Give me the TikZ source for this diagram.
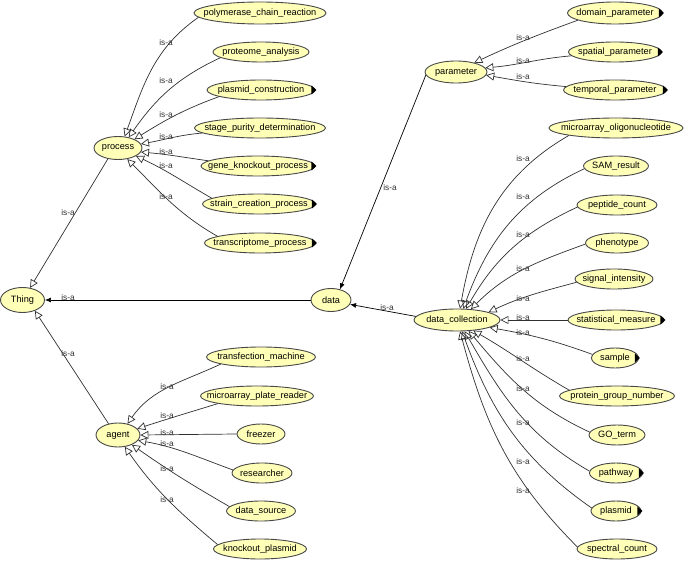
\documentclass[tikz,border=0pt]{standalone}
\usepackage{fontspec}
\setmainfont{Liberation Sans}
\usetikzlibrary{shapes.geometric,arrows.meta}
\definecolor{nodefill}{HTML}{FFFFB8}
\definecolor{nodeline}{HTML}{484848}
\definecolor{edgecol}{HTML}{303030}
\newcommand\ctxt[1]{\hbox to 0pt{\hss#1\hss}}
\begin{document}
\begin{tikzpicture}[x=1pt,y=1pt,
  cls/.style={ellipse, draw=nodeline, fill=nodefill, line width=0.9pt, inner sep=0pt, minimum height=20pt, font=\fontsize{9.2}{10}\selectfont},
  isa/.style={draw=edgecol, line width=0.7pt, -{Triangle[open, length=8pt, width=8pt]}},
  isaf/.style={draw=black, line width=0.7pt, -{Latex[length=6pt,width=5pt]}},
  lbl/.style={font=\fontsize{8.3}{9}\selectfont, inner sep=0pt, text=edgecol},
  exptri/.style={fill=black}
]
\useasboundingbox (0,0) rectangle (685,563);

% main nodes
\node[cls, minimum width=44pt, minimum height=25pt] (thing) at (22.5,263) {\ctxt{Thing}};
\node[cls, minimum width=48pt, minimum height=23pt] (process) at (118,415) {\ctxt{process}};
\node[cls, minimum width=44pt, minimum height=24pt] (agent) at (118,128) {\ctxt{agent}};
\node[cls, minimum width=40pt, minimum height=23pt] (data) at (331,263) {\ctxt{data}};
\node[cls, minimum width=62pt, minimum height=22pt] (param) at (456,491) {\ctxt{parameter}};
\node[cls, minimum width=86pt, minimum height=22pt] (dc) at (457,243) {\ctxt{data\_collection}};

% process children
\node[cls, minimum width=132pt, minimum height=22pt] (poly) at (260,550) {\ctxt{polymerase\_chain\_reaction}};
\node[cls, minimum width=96pt] (prot) at (261,511) {\ctxt{proteome\_analysis}};
\node[cls, minimum width=108pt] (plc) at (261,473) {\ctxt{plasmid\_construction}};
\node[cls, minimum width=131pt] (stage) at (260,435) {\ctxt{stage\_purity\_determination}};
\node[cls, minimum width=114pt] (gene) at (258,397) {\ctxt{gene\_knockout\_process}};
\node[cls, minimum width=113pt] (strain) at (259,359) {\ctxt{strain\_creation\_process}};
\node[cls, minimum width=111pt] (trans) at (260,320) {\ctxt{transcriptome\_process}};

% agent children
\node[cls, minimum width=109pt] (tm) at (261,206) {\ctxt{transfection\_machine}};
\node[cls, minimum width=113pt] (mpr) at (257,167) {\ctxt{microarray\_plate\_reader}};
\node[cls, minimum width=48pt] (freezer) at (261,129) {\ctxt{freezer}};
\node[cls, minimum width=60pt] (res) at (262,90) {\ctxt{researcher}};
\node[cls, minimum width=69pt] (ds) at (261,52) {\ctxt{data\_source}};
\node[cls, minimum width=93pt] (kp) at (260,14) {\ctxt{knockout\_plasmid}};

% parameter children
\node[cls, minimum width=95pt, minimum height=22pt] (dp) at (615,550) {\ctxt{domain\_parameter}};
\node[cls, minimum width=93pt] (sp) at (615,511) {\ctxt{spatial\_parameter}};
\node[cls, minimum width=103pt] (tpar) at (615,473) {\ctxt{temporal\_parameter}};

% data_collection children
\node[cls, minimum width=134pt] (mo) at (616,435) {\ctxt{microarray\_oligonucleotide}};
\node[cls, minimum width=65pt] (sam) at (616,397) {\ctxt{SAM\_result}};
\node[cls, minimum width=80pt] (pep) at (617,358) {\ctxt{peptide\_count}};
\node[cls, minimum width=63pt] (phe) at (617,320) {\ctxt{phenotype}};
\node[cls, minimum width=78pt] (sig) at (614,284) {\ctxt{signal\_intensity}};
\node[cls, minimum width=96pt] (stat) at (616,243) {\ctxt{statistical\_measure}};
\node[cls, minimum width=47pt] (sample) at (615,205) {\ctxt{sample}};
\node[cls, minimum width=115pt] (pgn) at (617,167) {\ctxt{protein\_group\_number}};
\node[cls, minimum width=56pt] (go) at (617,128) {\ctxt{GO\_term}};
\node[cls, minimum width=53pt] (pw) at (616,90) {\ctxt{pathway}};
\node[cls, minimum width=50pt] (pl) at (616,52) {\ctxt{plasmid}};
\node[cls, minimum width=80pt] (spc) at (617,14) {\ctxt{spectral\_count}};

% expand markers
\foreach \n in {plc,gene,strain,trans,dp,sp,tpar,stat,sample,pw,pl}
  \fill[exptri] (\n.east) ++(-4,4.5) -- ++(5,-4.5) -- ++(-5,-4.5) -- cycle;

% process edges
\draw[isa] (poly.184) to[out=215,in=70] (process.60);
\draw[isa] (prot.188) to[out=205,in=55] (process.45);
\draw[isa] (plc.189) to[out=200,in=32] (process.28);
\draw[isa] (stage.185) to[out=185,in=10] (process.10);
\draw[isa] (gene.174) to[out=172,in=-5] (process.-10);
\draw[isa] (strain.173) to[out=150,in=-25] (process.-24);
\draw[isa] (trans.171) to[out=150,in=-45] (process.-50);

% Thing edges
\draw[isa] (process.227) -- (thing.58);
\draw[isa] (agent.130) -- (thing.-41);
\draw[isaf] (data.west) -- (thing.east);

% agent edges
\draw[isa] (tm.190) to[out=205,in=55] (agent.50);
\draw[isa] (mpr.191) to[out=197,in=18] (agent.18);
\draw[isa] (freezer.west) -- (agent.east);
\draw[isa] (res.174) to[out=160,in=-10] (agent.-15);
\draw[isa] (ds.172) to[out=150,in=-35] (agent.-35);
\draw[isa] (kp.174) to[out=140,in=-55] (agent.-60);

% parameter edges
\draw[isa] (dp.191) to[out=200,in=25] (param.27);
\draw[isa] (sp.185) to[out=185,in=5] (param.8);
\draw[isa] (tpar.176) to[out=175,in=-10] (param.-6);
\draw[isaf] (param.186) -- (data.50);

% data_collection edges
\draw[isaf] (dc.175) -- (data.-13);
\draw[isa] (mo.189) to[out=210,in=80] (dc.75);
\draw[isa] (sam.185) to[out=205,in=70] (dc.61);
\draw[isa] (pep.183) to[out=205,in=60] (dc.51);
\draw[isa] (phe.182) to[out=200,in=45] (dc.38);
\draw[isa] (sig.185) to[out=195,in=25] (dc.14);
\draw[isa] (stat.west) -- (dc.east);
\draw[isa] (sample.171) to[out=160,in=-10] (dc.-13);
\draw[isa] (pgn.173) to[out=150,in=-30] (dc.-33);
\draw[isa] (go.174) to[out=155,in=-50] (dc.-43);
\draw[isa] (pw.176) to[out=150,in=-60] (dc.-56);
\draw[isa] (pl.173) to[out=145,in=-70] (dc.-66);
\draw[isa] (spc.177) to[out=135,in=-75] (dc.-75);

% labels
\foreach \y [count=\i] in {520,482,448,426,411,397,366}
  \node[lbl] (lp\i) at (166,\y) {is-a};
\node[lbl] (lt1) at (68,350) {is-a};
\node[lbl] (lt2) at (68,209) {is-a};
\node[lbl] (lt3) at (68,265) {is-a};
\foreach \y [count=\i] in {176,147,130,119,94,63}
  \node[lbl] (la\i) at (167,\y) {is-a};
\foreach \y [count=\i] in {525,502,486}
  \node[lbl] (lpa\i) at (523,\y) {is-a};
\node[lbl] (lpd) at (390,375) {is-a};
\foreach \y [count=\i] in {404,366,328,294,264,245,230,204,174,140,101,72}
  \node[lbl] (ld\i) at (523,\y) {is-a};
\node[lbl] (ldd) at (387,255) {is-a};
\end{tikzpicture}
\end{document}
